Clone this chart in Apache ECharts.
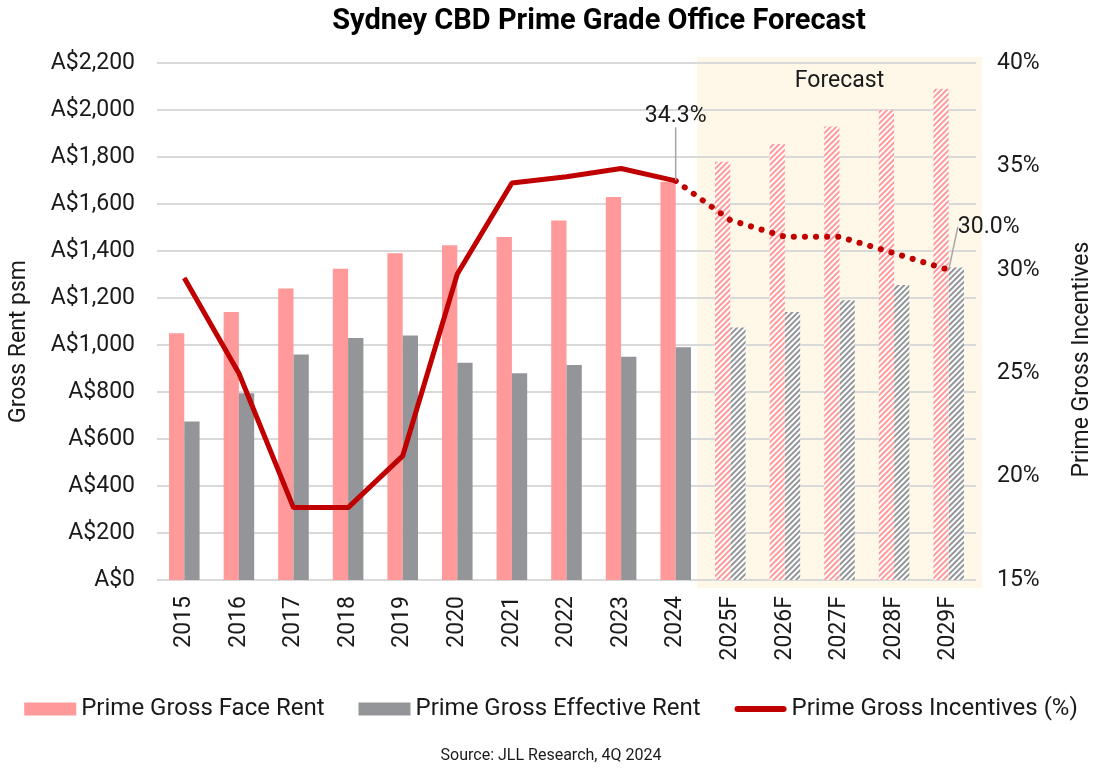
<!DOCTYPE html>
<html>
<head>
<meta charset="utf-8">
<script src="https://cdn.jsdelivr.net/npm/echarts@6/dist/echarts.min.js"></script>
<style>
  html, body { margin: 0; padding: 0; background: #fff; }
  #main { width: 1102px; height: 779px; }
</style>
</head>
<body>
<div id="main"></div>
<script>
// 数据
var years = ['2015', '2016', '2017', '2018', '2019', '2020', '2021', '2022', '2023', '2024',
  '2025F', '2026F', '2027F', '2028F', '2029F'];
var faceRent = [1050, 1140, 1240, 1325, 1390, 1425, 1460, 1530, 1630, 1695, 1780, 1855, 1930, 2000, 2090];
var effectiveRent = [675, 795, 960, 1030, 1040, 925, 880, 915, 950, 990, 1075, 1140, 1190, 1255, 1330];
var incentives = [29.6, 25.0, 18.5, 18.5, 21.0, 29.8, 34.2, 34.5, 34.9, 34.3, 32.4, 31.6, 31.6, 30.8, 30.0];
var firstForecast = 10;

var FONT = 'Roboto';
var pink = '#ff999a';
var grey = '#939598';
var red = '#c00000';
var txt = '#1a1a1a';

function stripes(c) {
  return { color: c, dashArrayX: [1, 0], dashArrayY: [2, 2], rotation: -Math.PI / 4 };
}
function barData(vals, c) {
  return vals.map(function (v, i) {
    if (i < firstForecast) return v;
    return { value: v, itemStyle: { color: '#fff', decal: stripes(c) } };
  });
}
var solid = incentives.map(function (v, i) { return i < firstForecast ? v : null; });
var dotted = incentives.map(function (v, i) { return i >= firstForecast - 1 ? v : null; });

var myChart = echarts.init(document.getElementById('main'));

var source = {
  type: 'text', left: 'center', bottom: 15,
  style: { text: 'Source: JLL Research, 4Q 2024', fontSize: 16, fill: txt, fontFamily: FONT }
};

var option = {
  animation: false,
  textStyle: { fontFamily: FONT },
  title: {
    text: 'Sydney CBD Prime Grade Office Forecast',
    left: 594, top: 2, textAlign: 'center',
    textStyle: { fontFamily: FONT, fontSize: 29, fontWeight: 'bold', color: '#000' }
  },
  grid: { left: 155, right: 126, top: 63, bottom: 199 },
  legend: {
    top: 692, left: 'center', itemWidth: 52, itemHeight: 13, itemGap: 34,
    textStyle: { fontFamily: FONT, fontSize: 24, color: txt },
    data: [
      { name: 'Prime Gross Face Rent', icon: 'rect' },
      { name: 'Prime Gross Effective Rent', icon: 'rect' },
      { name: 'Prime Gross Incentives (%)', icon: 'path://M3,0H49A3,3 0 0 1 49,6H3A3,3 0 0 1 3,0Z' }
    ]
  },
  xAxis: {
    type: 'category', data: years,
    axisLine: { show: false }, axisTick: { show: false },
    axisLabel: { rotate: 90, margin: 16, fontSize: 23, color: txt, fontFamily: FONT }
  },
  yAxis: [{
    type: 'value', min: 0, max: 2200, interval: 200,
    name: 'Gross Rent psm', nameLocation: 'middle', nameGap: 126,
    nameTextStyle: { fontSize: 23, color: txt, fontFamily: FONT, padding: [0, 40, 0, 0] },
    axisLabel: {
      margin: 22, fontSize: 23, color: txt, fontFamily: FONT,
      formatter: function (v) { return 'A$' + v.toLocaleString('en-US'); }
    },
    splitLine: { lineStyle: { color: '#d9d9d9', width: 2 } }
  }, {
    type: 'value', min: 15, max: 40, interval: 5,
    name: 'Prime Gross Incentives', nameLocation: 'middle', nameGap: 95,
    nameTextStyle: { fontSize: 23, color: txt, fontFamily: FONT, padding: [0, 76, 0, 0] },
    axisLabel: { margin: 21, fontSize: 23, color: txt, fontFamily: FONT, formatter: '{value}%' },
    splitLine: { show: false }
  }],
  series: [{
    name: 'Prime Gross Face Rent', type: 'bar', barWidth: '28%', barGap: '0%',
    itemStyle: { color: pink }, data: barData(faceRent, pink)
  }, {
    name: 'Prime Gross Effective Rent', type: 'bar', barWidth: '28%', barGap: '0%',
    itemStyle: { color: grey }, data: barData(effectiveRent, grey)
  }, {
    name: 'Prime Gross Incentives (%)', type: 'line', yAxisIndex: 1, z: 5,
    symbol: 'circle', symbolSize: 1, showSymbol: true,
    lineStyle: { color: red, width: 5 }, itemStyle: { color: red },
    data: solid.map(function (v, i) {
      if (i !== firstForecast - 1) return v;
      return { value: v, label: { show: true } };
    }),
    label: { show: false, position: 'top', fontSize: 23, color: txt, formatter: '{c}%' },
    labelLine: { show: true, lineStyle: { color: '#a6a6a6', width: 1.5 } },
    labelLayout: { dy: -48 }
  }, {
    name: 'incentives forecast', type: 'line', yAxisIndex: 1, z: 5,
    symbol: 'circle', symbolSize: 1, showSymbol: true,
    lineStyle: { color: red, width: 6, type: [0.1, 11], cap: 'round' }, itemStyle: { color: red },
    data: dotted.map(function (v, i) {
      if (i !== years.length - 1) return v;
      return { value: v, label: { show: true } };
    }),
    label: { show: false, position: 'top', fontSize: 23, color: txt,
      formatter: function (p) { return p.value.toFixed(1) + '%'; } },
    labelLine: { show: true, lineStyle: { color: '#a6a6a6', width: 1.5 } },
    labelLayout: { dx: 40, dy: -26 }
  }],
  graphic: [source]
};

myChart.setOption(option);

// forecast shading behind the forecast years
var x0 = myChart.convertToPixel({ xAxisIndex: 0 }, years[firstForecast]);
var x1 = myChart.convertToPixel({ xAxisIndex: 0 }, years[years.length - 1]);
var band = (x1 - x0) / (years.length - 1 - firstForecast);
var yTop = myChart.convertToPixel({ yAxisIndex: 0 }, 2200);
var yBot = myChart.convertToPixel({ yAxisIndex: 0 }, 0);
var rx = x0 - band / 2 - 6, rw = x1 + band / 2 + 6 - rx;
myChart.setOption({
  graphic: [source, {
    type: 'rect', z: -10, silent: true,
    shape: { x: rx, y: yTop - 6, width: rw, height: yBot - yTop + 14 },
    style: { fill: '#fff8e8' }
  }, {
    type: 'text', z: 1,
    x: rx + rw / 2, y: yTop + 7,
    style: { text: 'Forecast', fontSize: 23, fill: txt, fontFamily: FONT, align: 'center', verticalAlign: 'top' }
  }]
});
</script>
</body>
</html>
